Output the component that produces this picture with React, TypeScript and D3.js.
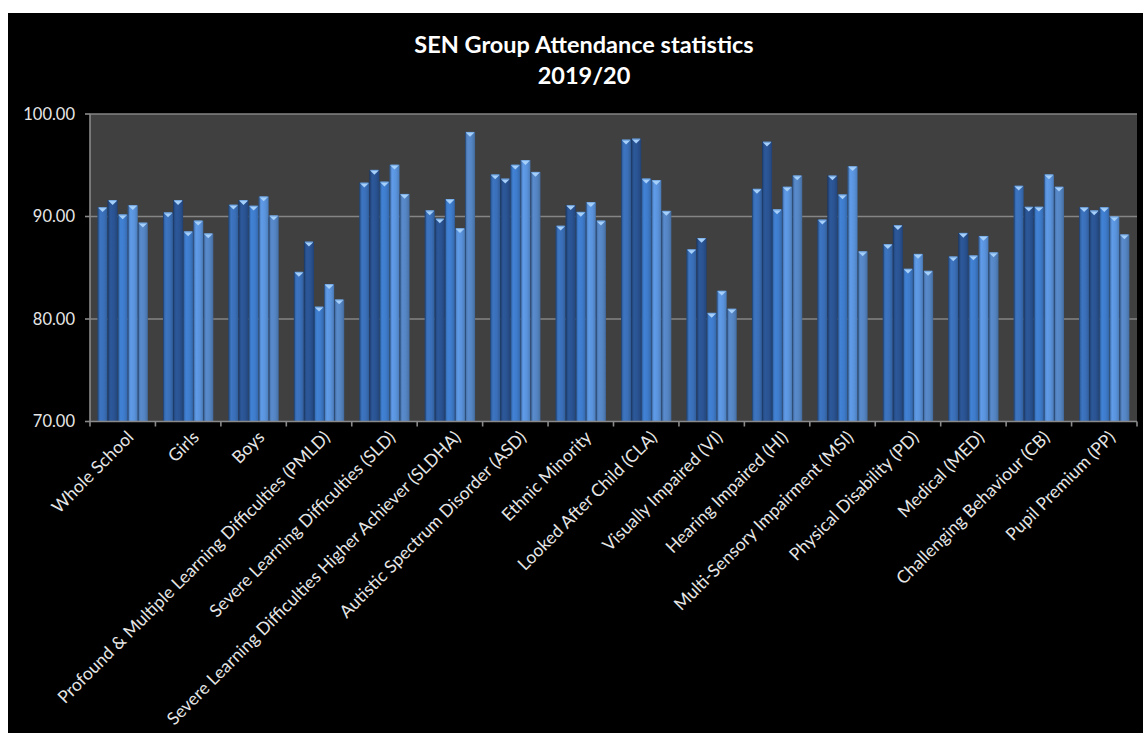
import React from "react";
import * as d3 from "d3";

// SEN group attendance (%) for 2019/20, five bars per group
const categories = [
  "Whole School",
  "Girls",
  "Boys",
  "Profound & Multiple Learning Difficulties (PMLD)",
  "Severe Learning Difficulties (SLD)",
  "Severe Learning Difficulties Higher Achiever (SLDHA)",
  "Autistic Spectrum Disorder (ASD)",
  "Ethnic Minority",
  "Looked After Child (CLA)",
  "Visually Impaired (VI)",
  "Hearing Impaired (HI)",
  "Multi-Sensory Impairment (MSI)",
  "Physical Disability (PD)",
  "Medical (MED)",
  "Challenging Behaviour (CB)",
  "Pupil Premium (PP)",
];

const series1 = [90.9, 90.4, 91.15, 84.6, 93.3, 90.6, 94.1, 89.1, 97.5, 86.8, 92.7, 89.7, 87.3, 86.1, 93.0, 90.9];
const series2 = [91.6, 91.6, 91.6, 87.55, 94.55, 89.8, 93.7, 91.1, 97.6, 87.9, 97.3, 94.0, 89.15, 88.4, 90.95, 90.6];
const series3 = [90.2, 88.55, 91.05, 81.2, 93.4, 91.7, 95.05, 90.45, 93.7, 80.6, 90.7, 92.15, 84.9, 86.2, 90.95, 90.9];
const series4 = [91.1, 89.6, 91.95, 83.4, 95.05, 88.85, 95.5, 91.4, 93.55, 82.75, 92.9, 94.9, 86.35, 88.1, 94.1, 90.0];
const series5 = [89.4, 88.35, 90.1, 81.9, 92.2, 98.25, 94.35, 89.6, 90.55, 81.0, 94.0, 86.6, 84.7, 86.5, 92.9, 88.25];

const seriesValues = [series1, series2, series3, series4, series5];
const seriesKeys = ["s1", "s2", "s3", "s4", "s5"];
const seriesColors = ["#3a6fb8", "#2a5392", "#3e7bcb", "#5a93dc", "#5484c2"];

const yTicks = [70, 80, 90, 100];
const titleLines = ["SEN Group Attendance statistics", "2019/20"];

const W = 1143;
const H = 733;
const plot = { left: 90, right: 1137, top: 114, bottom: 421.5 };
const FONT = "Lato, 'Open Sans', 'DejaVu Sans', sans-serif";

export default function App() {
  const slot = d3.scaleBand<string>().domain(categories).range([plot.left, plot.right]).padding(0);
  const x0 = d3
    .scaleBand<string>()
    .domain(categories)
    .range([plot.left, plot.right])
    .paddingInner(1.5 / 6.5)
    .paddingOuter(0.75 / 6.5);
  const x1 = d3.scaleBand<string>().domain(seriesKeys).range([0, x0.bandwidth()]);
  const y = d3.scaleLinear().domain([70, 100]).range([plot.bottom, plot.top]);

  const bw = x1.bandwidth();

  const boundaries = d3.range(categories.length + 1).map((i) => plot.left + i * slot.step());

  return (
    <svg
      width={W}
      height={H}
      viewBox={`0 0 ${W} ${H}`}
      style={{ position: "absolute", left: 0, top: 0, display: "block" }}
      fontFamily={FONT}
    >
      <defs>
        {seriesColors.map((c, i) => {
          const base = d3.color(c)!;
          return (
            <linearGradient key={i} id={`bar-grad-${i}`} x1="0" x2="1" y1="0" y2="0">
              <stop offset="0%" stopColor={base.darker(0.9).formatHex()} />
              <stop offset="12%" stopColor={base.darker(0.3).formatHex()} />
              <stop offset="30%" stopColor={base.brighter(0.15).formatHex()} />
              <stop offset="65%" stopColor={base.formatHex()} />
              <stop offset="90%" stopColor={base.darker(0.35).formatHex()} />
              <stop offset="100%" stopColor={base.darker(0.8).formatHex()} />
            </linearGradient>
          );
        })}
      </defs>

      <rect x={0} y={0} width={W} height={H} fill="#ffffff" />
      <rect x={8} y={13} width={W - 8} height={H - 13} fill="#000000" />

      {/* title */}
      <text x={584} y={53} textAnchor="middle" fill="#ffffff" fontSize={23.5} fontWeight="bold">
        {titleLines[0]}
      </text>
      <text x={584} y={84} textAnchor="middle" fill="#ffffff" fontSize={23.5} fontWeight="bold">
        {titleLines[1]}
      </text>

      {/* plot area */}
      <rect
        x={plot.left}
        y={plot.top}
        width={plot.right - plot.left}
        height={plot.bottom - plot.top}
        fill="#404040"
      />

      {/* gridlines */}
      {yTicks.slice(1).map((t) => (
        <line key={t} x1={plot.left} x2={plot.right} y1={y(t)} y2={y(t)} stroke="#858585" strokeWidth={1.6} />
      ))}

      {/* bars */}
      {categories.map((cat, ci) => (
        <g key={cat} transform={`translate(${x0(cat)},0)`}>
          {seriesKeys.map((k, si) => {
            const v = seriesValues[si][ci];
            const bx = x1(k)!;
            const top = y(v);
            const h = plot.bottom - top;
            return (
              <g key={k}>
                <rect x={bx} y={top} width={bw} height={h} fill={`url(#bar-grad-${si})`} />
                <line x1={bx + 0.5} x2={bx + 0.5} y1={top} y2={plot.bottom} stroke="#1c3a66" strokeWidth={0.8} opacity={0.7} />
                <polygon
                  points={`${bx + 1},${top + 0.8} ${bx + bw - 1},${top + 0.8} ${bx + bw / 2},${top + 4.8}`}
                  fill="#a6d0fa"
                />
                <line x1={bx + 1} x2={bx + bw - 1} y1={top + 0.5} y2={top + 0.5} stroke="#7fb3ea" strokeWidth={1} />
              </g>
            );
          })}
        </g>
      ))}

      {/* y axis */}
      <line x1={plot.left} x2={plot.left} y1={plot.top} y2={plot.bottom} stroke="#8a8a8a" strokeWidth={1.6} />
      {yTicks.map((t) => (
        <g key={t}>
          <line x1={plot.left - 5} x2={plot.left} y1={y(t)} y2={y(t)} stroke="#8a8a8a" strokeWidth={1.6} />
          <text x={75} y={y(t)} dy="0.36em" textAnchor="end" fill="#e6e6e6" fontSize={16.5}>
            {d3.format(".2f")(t)}
          </text>
        </g>
      ))}

      {/* x axis */}
      <line x1={plot.left} x2={plot.right} y1={plot.bottom} y2={plot.bottom} stroke="#8a8a8a" strokeWidth={1.6} />
      {boundaries.map((bx, i) => (
        <line key={i} x1={bx} x2={bx} y1={plot.bottom} y2={plot.bottom + 5} stroke="#8a8a8a" strokeWidth={1.6} />
      ))}
      {categories.map((cat) => {
        const cx = slot(cat)! + slot.bandwidth() / 2;
        return (
          <text
            key={cat}
            transform={`translate(${cx + 3},${plot.bottom + 8}) rotate(-45)`}
            textAnchor="end"
            dy="0.72em"
            fill="#e6e6e6"
            fontSize={17.5}
          >
            {cat}
          </text>
        );
      })}
    </svg>
  );
}
